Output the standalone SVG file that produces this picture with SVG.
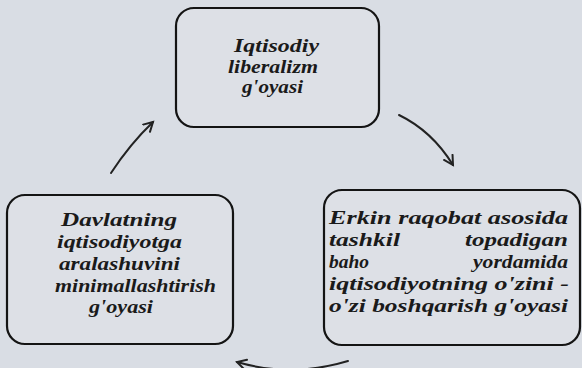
<svg xmlns="http://www.w3.org/2000/svg" width="582" height="368" viewBox="0 0 582 368">
<defs>
<style>
.bg{fill:#d9dde4}
.box{fill:#dde0e6;stroke:#141414;stroke-width:2.2}
.t{font-family:"Liberation Serif","Times New Roman",serif;font-weight:bold;font-style:italic;font-size:18px;fill:#1a1a1a}
.big{font-size:19px}
.arr{fill:none;stroke:#222;stroke-width:2;stroke-linecap:round}
</style>
<marker id="ah" markerWidth="14" markerHeight="14" refX="0" refY="0" viewBox="-10 -7 14 14" orient="auto" markerUnits="userSpaceOnUse">
<path d="M-9,-5 L0,0 L-9,5" fill="none" stroke="#222" stroke-width="2" stroke-linecap="round"/>
</marker>
</defs>
<rect class="bg" x="0" y="0" width="582" height="368"/>

<g id="node-top">
<rect class="box" x="176" y="8" width="203" height="119" rx="18"/>
<text class="t big" x="234" y="52" textLength="85" lengthAdjust="spacingAndGlyphs">Iqtisodiy</text>
<text class="t big" x="228" y="73" textLength="90" lengthAdjust="spacingAndGlyphs">liberalizm</text>
<text class="t big" x="242" y="93" textLength="61" lengthAdjust="spacingAndGlyphs">g'oyasi</text>
</g>

<g id="node-right">
<rect class="box" x="324" y="190" width="256" height="155" rx="18"/>
<text class="t" x="329" y="224" textLength="239" lengthAdjust="spacingAndGlyphs">Erkin raqobat asosida</text>
<text class="t" x="329" y="246" textLength="71" lengthAdjust="spacingAndGlyphs">tashkil</text>
<text class="t" x="465" y="246" textLength="103" lengthAdjust="spacingAndGlyphs">topadigan</text>
<text class="t" x="329" y="268" textLength="40" lengthAdjust="spacingAndGlyphs">baho</text>
<text class="t" x="473" y="268" textLength="95" lengthAdjust="spacingAndGlyphs">yordamida</text>
<text class="t" x="329" y="290" textLength="240" lengthAdjust="spacingAndGlyphs">iqtisodiyotning o'zini -</text>
<text class="t" x="329" y="312" textLength="239" lengthAdjust="spacingAndGlyphs">o'zi boshqarish g'oyasi</text>
</g>

<g id="node-left">
<rect class="box" x="7" y="195" width="226" height="149" rx="18"/>
<text class="t" x="61" y="226" textLength="116" lengthAdjust="spacingAndGlyphs">Davlatning</text>
<text class="t" x="57" y="248" textLength="125" lengthAdjust="spacingAndGlyphs">iqtisodiyotga</text>
<text class="t" x="59" y="270" textLength="121" lengthAdjust="spacingAndGlyphs">aralashuvini</text>
<text class="t" x="55" y="292" textLength="161" lengthAdjust="spacingAndGlyphs">minimallashtirish</text>
<text class="t" x="89" y="313" textLength="64" lengthAdjust="spacingAndGlyphs">g'oyasi</text>
</g>

<g id="connectors">
<path class="arr" d="M399,115 Q432,131 453,165" marker-end="url(#ah)"/>
<path class="arr" d="M348,361 Q292,378 237,362" marker-end="url(#ah)"/>
<path class="arr" d="M111,173 Q130,144 153,122" marker-end="url(#ah)"/>
</g>
</svg>
